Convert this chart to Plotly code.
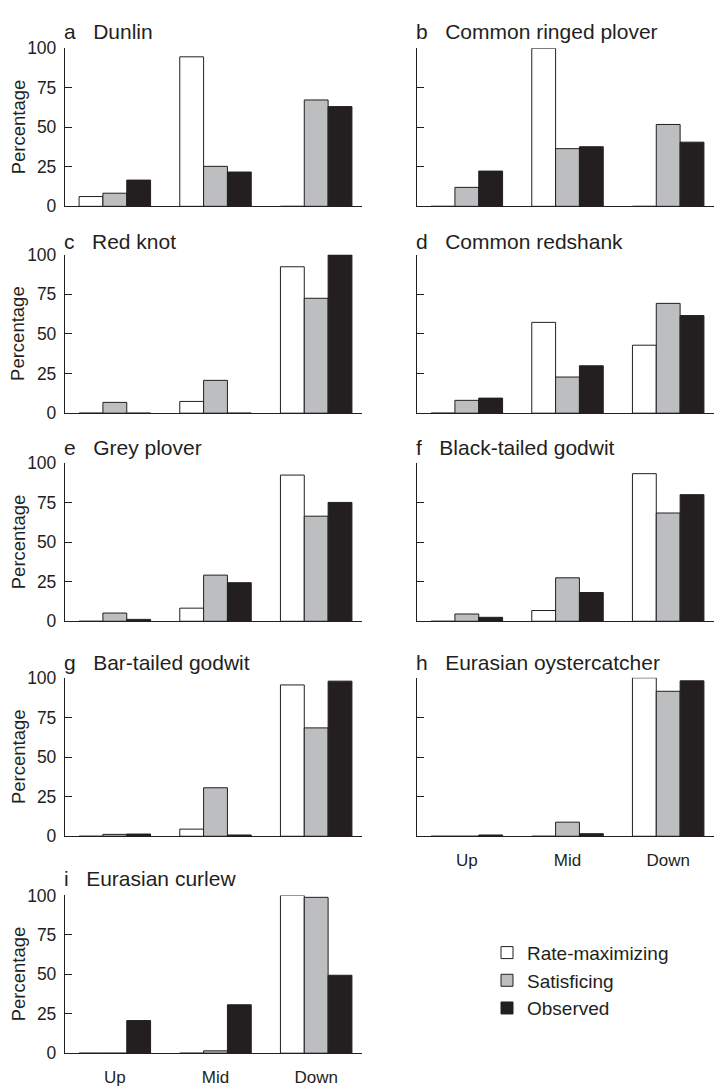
import plotly.graph_objects as go

# ---------------- data ----------------
panel_letters = ["a", "b", "c", "d", "e", "f", "g", "h", "i"]
species = ["Dunlin", "Common ringed plover", "Red knot", "Common redshank",
           "Grey plover", "Black-tailed godwit", "Bar-tailed godwit",
           "Eurasian oystercatcher", "Eurasian curlew"]
zones = ["Up", "Mid", "Down"]
series_names = ["Rate-maximizing", "Satisficing", "Observed"]

rate_maximizing = [
    [6.2, 94.6, 0], [0, 100, 0], [0, 7.4, 92.4], [0, 57.3, 42.9],
    [0, 8.3, 92.5], [0, 6.8, 93.4], [0, 4.5, 95.5], [0, 0, 100], [0, 0, 100],
]
satisficing = [
    [8.3, 25.3, 67.3], [12.0, 36.5, 51.8], [6.8, 20.7, 72.5], [8.1, 22.8, 69.3],
    [5.2, 29.2, 66.5], [4.6, 27.5, 68.5], [1.2, 30.6, 68.4], [0, 8.9, 91.5],
    [0, 1.5, 98.8],
]
observed = [
    [16.6, 21.7, 63.1], [22.3, 37.7, 40.6], [0, 0, 100], [9.5, 29.9, 61.6],
    [1.2, 24.4, 75.2], [2.5, 18.2, 80.1], [1.4, 0.8, 97.9], [0.8, 1.6, 98.1],
    [20.7, 30.7, 49.4],
]
y_ticks = [0, 25, 50, 75, 100]

# ---------------- styling / layout ----------------
W, H = 715, 1090
INK = "#231f20"
fills = ["#ffffff", "#bcbec0", "#231f20"]
FONT = "Liberation Sans, Arial, Helvetica, sans-serif"

col_px = [(65, 362), (417, 714)]
row_px = [(39, 200), (249.3, 410.7), (461.7, 622.7), (680.3, 841.7), (902, 1062.7)]
title_mid_px = [21.5, 235.5, 445.5, 664.5, 885]

fig = go.Figure()
layout = dict(
    width=W, height=H,
    margin=dict(l=0, r=0, t=0, b=0),
    paper_bgcolor="white", plot_bgcolor="white",
    barmode="group", bargap=0.29, bargroupgap=0,
    font=dict(family=FONT, color=INK),
    showlegend=True,
    legend=dict(x=487 / W, y=1 - 941 / H, xanchor="left", yanchor="top",
                font=dict(size=19, color=INK), traceorder="normal",
                bgcolor="rgba(0,0,0,0)", itemwidth=30),
)
annotations = []

all_series = [rate_maximizing, satisficing, observed]

for p in range(9):
    row, col = divmod(p, 2)
    ax = "" if p == 0 else str(p + 1)
    x0, x1 = col_px[col]
    y0, y1 = row_px[row]
    for s in range(3):
        fig.add_trace(go.Bar(
            x=zones, y=all_series[s][p], name=series_names[s],
            marker=dict(color=fills[s], line=dict(color=INK, width=1)),
            xaxis="x" + ax, yaxis="y" + ax,
            showlegend=(p == 0),
            offsetgroup=str(s),
        ))
    show_x_labels = p in (7, 8)
    layout["xaxis" + ax] = dict(
        domain=[x0 / W, x1 / W], anchor="y" + ax,
        range=[-0.495, 2.455], showline=True, linecolor=INK, linewidth=1.3,
        ticks="", showgrid=False, zeroline=False,
        showticklabels=show_x_labels, tickfont=dict(size=17, color=INK),
        ticklabelstandoff=8, fixedrange=True,
    )
    layout["yaxis" + ax] = dict(
        domain=[1 - y1 / H, 1 - y0 / H], anchor="x" + ax,
        range=[0, 100], tickvals=y_ticks, ticks="inside", ticklen=7,
        tickwidth=1.2, tickcolor=INK, showline=True, linecolor=INK,
        linewidth=1.3, showgrid=False, zeroline=False,
        showticklabels=(col == 0), tickfont=dict(size=17.5, color=INK),
        ticklabelstandoff=4, fixedrange=True,
    )
    annotations.append(dict(
        text=panel_letters[p] + "\u00a0\u00a0\u00a0" + species[p],
        xref="paper", yref="paper", x=(x0 - 3) / W, y=1 - title_mid_px[row] / H,
        xanchor="left", yanchor="middle", showarrow=False,
        font=dict(size=21, color=INK),
    ))
    if col == 0:
        annotations.append(dict(
            text="Percentage", xref="paper", yref="paper",
            x=18 / W, y=1 - ((y0 + y1) / 2) / H, textangle=-90,
            xanchor="center", yanchor="middle", showarrow=False,
            font=dict(size=18.5, color=INK),
        ))

layout["annotations"] = annotations
fig.update_layout(**layout)
fig.write_html("out.html")
